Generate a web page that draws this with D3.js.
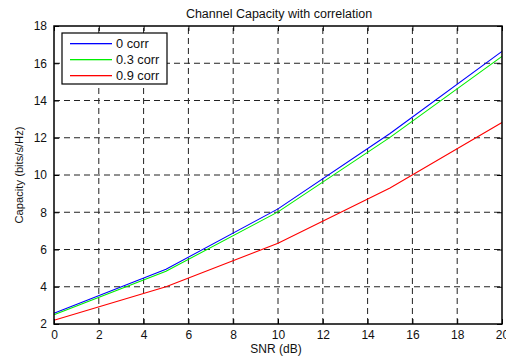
<!DOCTYPE html>
<html><head><meta charset="utf-8">
<script src="https://cdn.jsdelivr.net/npm/d3@7"></script>
<style>body{margin:0;background:#fff}svg{display:block}text{font-family:"Liberation Sans",Arial,sans-serif;fill:#111}</style>
</head><body>
<script>
const snr = [0, 5, 10, 15, 20];
const corr0 = [2.58, 4.94, 8.18, 12.23, 16.64];
const corr03 = [2.50, 4.83, 8.02, 12.02, 16.37];
const corr09 = [2.20, 4.00, 6.33, 9.30, 12.82];
const seriesNames = ["0 corr", "0.3 corr", "0.9 corr"];
const seriesColors = ["#0000ff", "#00ee00", "#ff0000"];
const xTicks = [0,2,4,6,8,10,12,14,16,18,20];
const yTicks = [2,4,6,8,10,12,14,16,18];

const W = 506, H = 356;
const m = {l:54, r:4, t:26, b:32};
const svg = d3.select("body").append("svg").attr("width", W).attr("height", H);
const x = d3.scaleLinear().domain([0,20]).range([m.l, W - m.r]);
const y = d3.scaleLinear().domain([2,18]).range([H - m.b, m.t]);

// grid
const grid = svg.append("g");
grid.selectAll("line.vg").data(xTicks.slice(1,-1)).join("line").attr("class","vg")
  .attr("x1", d=>x(d)).attr("x2", d=>x(d)).attr("y1", y(2)).attr("y2", y(18))
  .attr("stroke", "#222").attr("stroke-width", 1).attr("stroke-dasharray", "6,4");
grid.selectAll("line.hg").data(yTicks.slice(1,-1)).join("line").attr("class","hg")
  .attr("y1", d=>y(d)).attr("y2", d=>y(d)).attr("x1", x(0)).attr("x2", x(20))
  .attr("stroke", "#222").attr("stroke-width", 1).attr("stroke-dasharray", "6,4");

// lines
const data = [corr0, corr03, corr09];
const line = d3.line().x((d,i)=>x(snr[i])).y(d=>y(d));
svg.selectAll("path.ln").data(data).join("path").attr("class","ln")
  .attr("d", d=>line(d)).attr("fill","none")
  .style("stroke", (d,i)=>seriesColors[i]).attr("stroke-width", 1.1);

// axes (ticks inside)
const ax = d3.axisBottom(x).tickValues(xTicks).tickSize(-5).tickPadding(6).tickFormat(d3.format("d"));
const ay = d3.axisLeft(y).tickValues(yTicks).tickSize(-5).tickPadding(7).tickFormat(d3.format("d"));
const axT = d3.axisTop(x).tickValues(xTicks).tickSize(-5).tickFormat("");
const ayR = d3.axisRight(y).tickValues(yTicks).tickSize(-5).tickFormat("");
function style(sel){
  sel.select(".domain").remove();
  sel.selectAll(".tick line").attr("stroke","#000");
  sel.selectAll("text").attr("font-size", 12).attr("fill","#111").style("font-family","Liberation Sans, Arial, sans-serif");
}
svg.append("g").attr("transform",`translate(0,${y(2)})`).call(ax).call(style);
svg.append("g").attr("transform",`translate(${x(0)},0)`).call(ay).call(style);
svg.append("g").attr("transform",`translate(0,${y(18)})`).call(axT).call(style);
svg.append("g").attr("transform",`translate(${x(20)},0)`).call(ayR).call(style);
svg.append("rect").attr("x", x(0)).attr("y", y(18)).attr("width", x(20)-x(0)).attr("height", y(2)-y(18))
  .attr("fill","none").attr("stroke","#000").attr("stroke-width",1.5);

// title and labels
svg.append("text").attr("x", 279).attr("y", 17.5).attr("text-anchor","middle")
  .attr("font-size", 12.5).text("Channel Capacity with correlation");
svg.append("text").attr("x", 276).attr("y", 353).attr("text-anchor","middle")
  .attr("font-size", 12).text("SNR (dB)");
svg.append("text").attr("transform", `translate(23,${(y(2)+y(18))/2}) rotate(-90)`).attr("text-anchor","middle")
  .attr("font-size", 11.2).text("Capacity (bits/s/Hz)");

// legend
const lg = svg.append("g");
lg.append("rect").attr("x", 62).attr("y", 33).attr("width", 105).attr("height", 51)
  .attr("fill","#fff").attr("stroke","#000").attr("stroke-width",1.2);
seriesNames.forEach(function(name, k){
  const col = seriesColors[k];
  const yy = 43 + k*16;
  lg.append("rect").attr("x",70).attr("y",yy).attr("width",42).attr("height",1.3)
    .attr("fill", col).style("fill", col);
  lg.append("text").attr("x",116).attr("y",yy+5).attr("font-size",12.8).text(name);
});
</script>
</body></html>
